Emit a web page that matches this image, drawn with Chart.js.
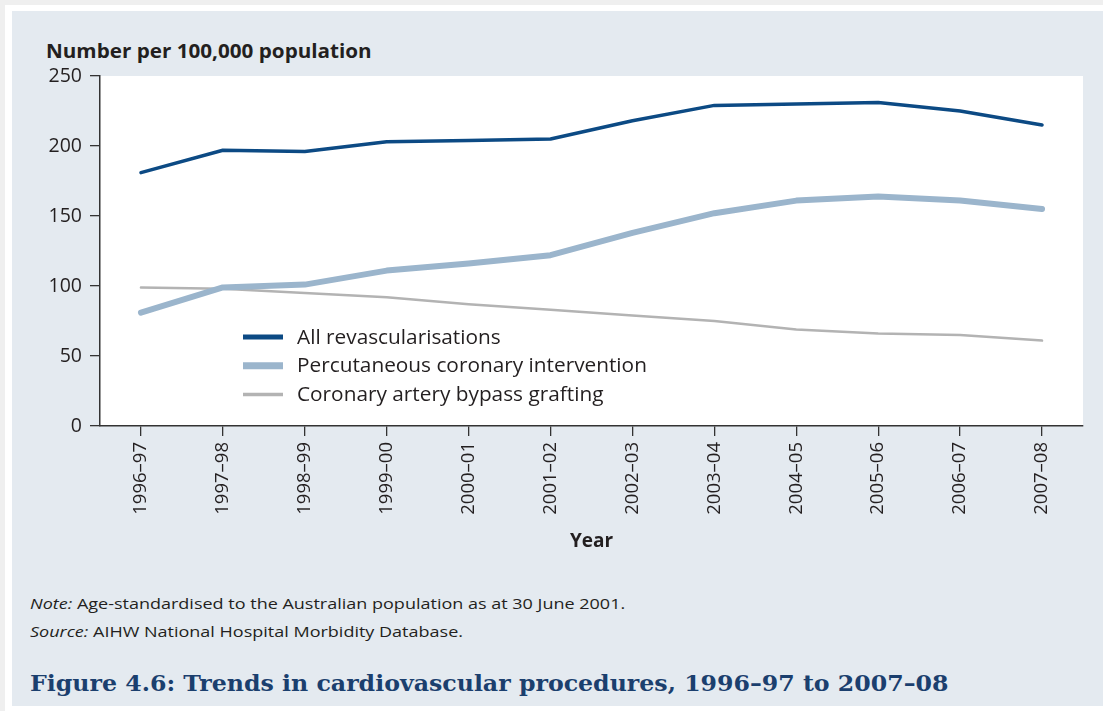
<!DOCTYPE html>
<html>
<head>
<meta charset="utf-8">
<script src="https://cdn.jsdelivr.net/npm/chart.js@4"></script>
<style>
  html, body { margin:0; padding:0; width:1103px; height:711px; overflow:hidden; background:#efefef; }
  #sheet { position:absolute; left:5px; top:5px; width:1098px; height:706px; background:#ffffff; }
  #panel { position:absolute; left:12px; top:11px; width:1091px; height:695px; background:#e4eaf0; }
  #chartWrap { position:absolute; left:0; top:0; width:1103px; height:560px; }
  .txt { position:absolute; font-family:"Open Sans", sans-serif; color:#231f20; white-space:nowrap; transform-origin:0 50%; }
  #ytitle { left:46px; top:39px; font-size:19px; font-weight:bold; line-height:24px; transform:scaleX(1.087); }
  #note { left:30px; top:593px; font-size:15px; line-height:20px; transform:scaleX(1.2); }
  #source { left:30px; top:621px; font-size:15px; line-height:20px; transform:scaleX(1.2); }
  #caption { left:30px; top:670px; font-family:"DejaVu Serif", serif; font-size:22px; font-weight:bold; line-height:26px; color:#1b3f6e; transform:scaleX(1.075); }
</style>
</head>
<body>
<div id="sheet"></div>
<div id="panel"></div>
<div class="txt" id="ytitle">Number per 100,000 population</div>
<div id="chartWrap"><canvas id="c" width="1103" height="560"></canvas></div>
<div class="txt" id="note"><i>Note:</i> Age-standardised to the Australian population as at 30 June 2001.</div>
<div class="txt" id="source"><i>Source:</i> AIHW National Hospital Morbidity Database.</div>
<div class="txt" id="caption">Figure 4.6: Trends in cardiovascular procedures, 1996–97 to 2007–08</div>
<script>
const categories = ['1996–97','1997–98','1998–99','1999–00','2000–01','2001–02','2002–03','2003–04','2004–05','2005–06','2006–07','2007–08'];
const allRevascularisations = [181,197,196,203,204,205,218,229,230,231,225,215];
const percutaneousCoronary = [81,99,101,111,116,122,138,152,161,164,161,155];
const coronaryBypass = [99,98,95,92,87,83,79,75,69,66,65,61];
const seriesLabels = ['All revascularisations','Percutaneous coronary intervention','Coronary artery bypass grafting'];
const yTickValues = [0,50,100,150,200,250];
const xAxisTitle = 'Year';

const plotBg = {
  id:'plotBg',
  beforeDraw(chart){
    const {ctx, chartArea:a} = chart;
    ctx.save(); ctx.fillStyle='#ffffff';
    ctx.fillRect(a.left, a.top, a.right-a.left, a.bottom-a.top);
    ctx.restore();
  }
};
const innerLegend = {
  id:'innerLegend',
  afterDatasetsDraw(chart, args, opts){
    const ctx = chart.ctx;
    ctx.save();
    ctx.font = '20px "Open Sans", sans-serif';
    ctx.textBaseline = 'middle';
    chart.data.datasets.forEach((ds,i)=>{
      const y = opts.y + i*opts.rowGap;
      ctx.strokeStyle = ds.borderColor;
      ctx.lineWidth = ds.legendWidth;
      ctx.lineCap = 'butt';
      ctx.beginPath(); ctx.moveTo(opts.x, y); ctx.lineTo(opts.x+opts.lineLen, y); ctx.stroke();
      ctx.fillStyle = '#231f20';
      const tx = opts.x+opts.lineLen+14;
      ctx.save();
      ctx.translate(tx, y+1);
      ctx.scale(1.04, 1);
      ctx.fillText(ds.label, 0, 0);
      ctx.restore();
    });
    ctx.restore();
  }
};

new Chart(document.getElementById('c'), {
  type:'line',
  data:{
    labels:categories,
    datasets:[
      {label:seriesLabels[0], data:allRevascularisations, borderColor:'#0c4a84', borderWidth:3.5, legendWidth:5},
      {label:seriesLabels[1], data:percutaneousCoronary, borderColor:'#9bb5cc', borderWidth:6, legendWidth:7},
      {label:seriesLabels[2], data:coronaryBypass, borderColor:'#b3b3b3', borderWidth:2.5, legendWidth:3.5}
    ]
  },
  options:{
    responsive:false,
    animation:false,
    devicePixelRatio:1,
    layout:{padding:{left:0, right:20, top:76, bottom:0}},
    elements:{point:{radius:0, hoverRadius:0}, line:{tension:0, borderCapStyle:'round', borderJoinStyle:'round'}},
    plugins:{
      legend:{display:false},
      tooltip:{enabled:false},
      innerLegend:{x:243, y:337, rowGap:28.7, lineLen:40}
    },
    scales:{
      x:{
        offset:true,
        grid:{display:true, drawOnChartArea:false, drawTicks:true, tickLength:10, color:'#333333', lineWidth:1.3, offset:false},
        border:{display:true, color:'#333333', width:1.5},
        ticks:{minRotation:90, maxRotation:90, padding:6, color:'#231f20', font:{family:'"Open Sans", sans-serif', size:18.5}},
        title:{display:true, text:xAxisTitle, color:'#231f20', font:{family:'"Open Sans", sans-serif', size:19, weight:'bold'}, padding:{top:0, bottom:7}},
        afterFit(scale){ scale.height = 134; }
      },
      y:{
        min:0, max:250,
        afterBuildTicks(scale){ scale.ticks = yTickValues.map(v=>({value:v})); },
        grid:{display:true, drawOnChartArea:false, drawTicks:true, tickLength:10, color:'#333333', lineWidth:1.3},
        border:{display:true, color:'#333333', width:1.5},
        ticks:{padding:8, color:'#231f20', font:{family:'"Open Sans", sans-serif', size:19.5}},
        afterFit(scale){ scale.width = 100; }
      }
    }
  },
  plugins:[plotBg, innerLegend]
});
</script>
</body>
</html>
